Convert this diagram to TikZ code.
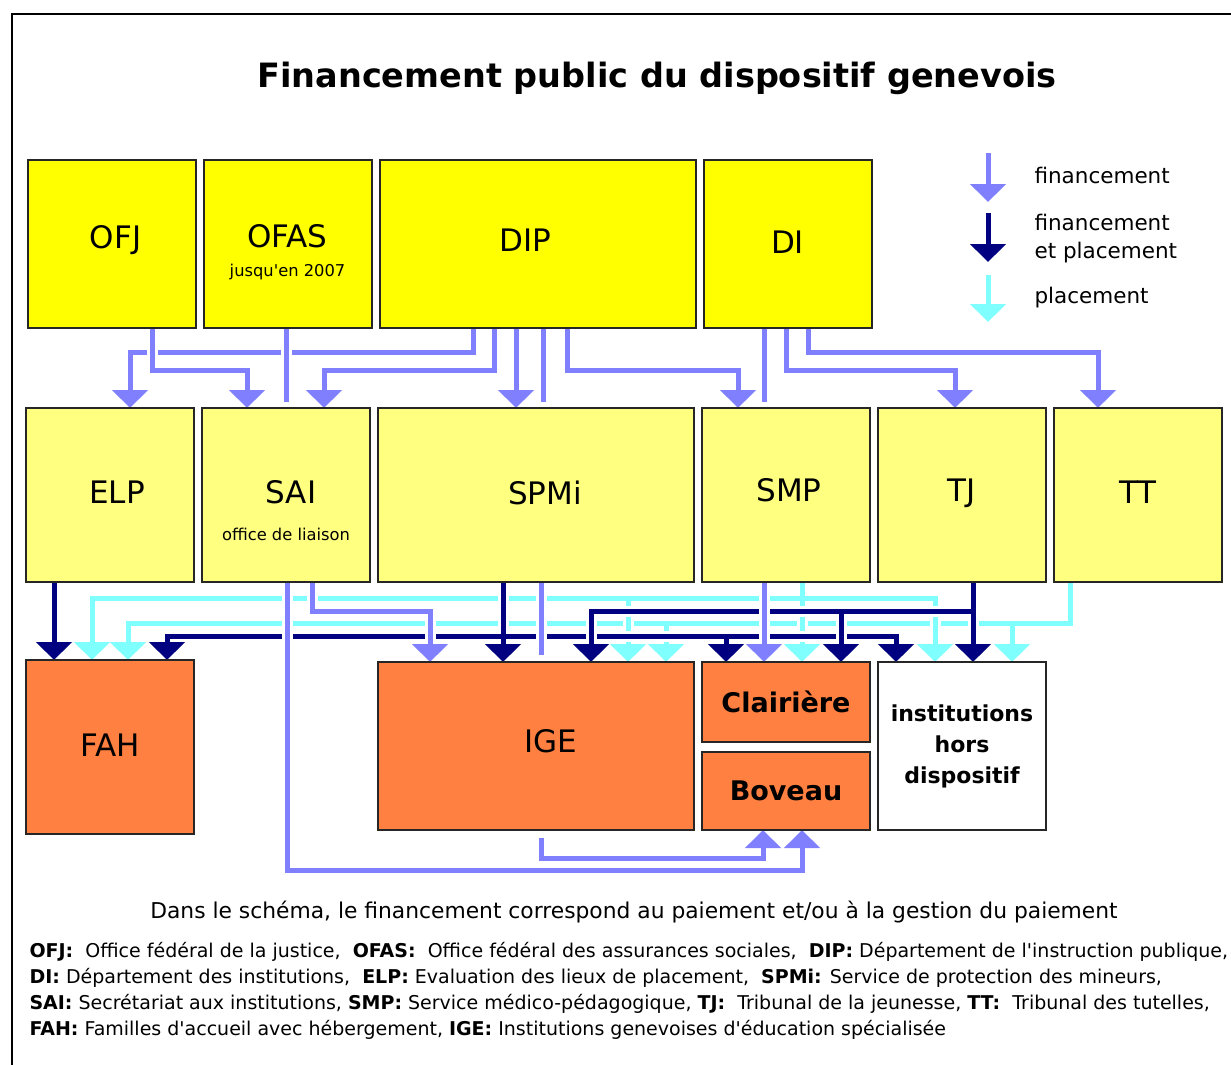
\documentclass[tikz,border=0pt]{standalone}
\usepackage{fontspec}
\setmainfont{DejaVu Sans}
\usetikzlibrary{
  arrows.meta,
  positioning,
  backgrounds
}
\definecolor{fincol}{HTML}{8080FF}
\definecolor{bothcol}{HTML}{000080}
\definecolor{placecol}{HTML}{80FFFF}
\definecolor{officecol}{HTML}{FFFF00}
\definecolor{servicecol}{HTML}{FFFF80}
\definecolor{hostcol}{HTML}{FF8040}
\tikzset{
  >={Triangle[width=35pt,length=18pt]},
  box/.style={draw=black!85, line width=2pt, inner sep=0pt, outer sep=0pt,
    minimum width=168pt, font=\fontsize{31}{36}\selectfont},
  wide/.style={minimum width=316pt},
  office/.style={box, fill=officecol, minimum height=168pt},
  service/.style={box, fill=servicecol, minimum height=174pt},
  host/.style={box, fill=hostcol},
  lift/.style={text depth=#1},
  subtext/.style={font=\fontsize{16.3}{19}\selectfont},
  legtext/.style={font=\fontsize{21.5}{28}\selectfont},
  finline/.style={draw=fincol, line width=5pt},
  bothline/.style={draw=bothcol, line width=5pt},
  placeline/.style={draw=placecol, line width=5pt},
  gap/.style={preaction={draw=white, line width=11pt, -, #1}},
  gap/.default={}
}

\begin{document}
\begin{tikzpicture}[x=1pt, y=-1pt]
  \useasboundingbox (0,0) rectangle (1231,1065);
  \draw[line width=2.5pt] (12,1065) -- (12,14) -- (1231,14);

  \node[anchor=base, font=\bfseries\fontsize{33.5}{40}\selectfont] (title) at (657,87)
    {Financement public du dispositif genevois};

  % offices
  \node[office, lift=14pt] (ofj) at (111.5,244) {\hspace*{8pt}OFJ};
  \node[office, lift=16pt, right=8pt of ofj] (ofas) {OFAS};
  \node[subtext] (ofas2) at ([yshift=-28pt]ofas.center) {jusqu\textquotesingle en 2007};
  \node[office, wide, lift=8pt, right=8pt of ofas] (dip) {DIP\hspace*{24pt}};
  \node[office, lift=4pt, right=8pt of dip] (di) {DI};

  % services
  \node[service, lift=6pt] (elp) at (110,495) {\hspace*{14pt}ELP};
  \node[service, lift=6pt, right=8pt of elp] (sai) {\hspace*{10pt}SAI};
  \node[subtext] (sai2) at ([yshift=-39pt]sai.center) {office de liaison};
  \node[service, wide, lift=4pt, right=8pt of sai] (spmi) {\hspace*{18pt}SPMi};
  \node[service, lift=10pt, right=8pt of spmi] (smp) {\hspace*{6pt}SMP};
  \node[service, lift=10pt, right=8pt of smp] (tj) {TJ};
  \node[service, lift=6pt, right=8pt of tj] (tt) {TT};

  % lieux de placement
  \node[host, minimum height=174pt, lift=4pt, below=78pt of elp] (fah) {FAH};
  \node[host, wide, minimum height=168pt, lift=10pt, below=80pt of spmi] (ige) {\hspace*{30pt}IGE};
  \node[host, minimum height=80pt, font=\bfseries\fontsize{27}{32}\selectfont,
    below=80pt of smp] (clair) {Clairière};
  \node[host, minimum height=78pt, font=\bfseries\fontsize{27}{32}\selectfont,
    below=10pt of clair] (boveau) {Boveau};
  \node[box, fill=white, minimum height=168pt, align=center,
    font=\bfseries\fontsize{22}{31}\selectfont, below=80pt of tj] (hors)
    {institutions\\hors\\dispositif};

  % legende
  \node[legtext, anchor=base west] (lgfin) at (1031,183) {financement};
  \node[legtext, anchor=west, align=left] (lgboth) at (1031,239) {financement\\et placement};
  \node[legtext, anchor=base west] (lgplace) at (1031,303) {placement};
  \coordinate (kfin) at (988,153);
  \coordinate (kboth) at (988,213);
  \coordinate (kplace) at (988,275);
  \draw[finline, ->] (kfin) -- ++(0,49);
  \draw[bothline, ->] (kboth) -- ++(0,49);
  \draw[placeline, ->] (kplace) -- ++(0,47);

  \node[anchor=base, font=\fontsize{21.8}{26}\selectfont] (note) at (634,918)
    {Dans le schéma, le financement correspond au paiement et/ou à la gestion du paiement};
  \node[anchor=north west, align=left, font=\fontsize{19}{26}\selectfont] (abbr) at (26,939)
    {\textbf{OFJ:}\ \ Office fédéral de la justice,\ \ \textbf{OFAS:}\ \ Office fédéral des assurances sociales,\ \ \textbf{DIP:} Département de l\textquotesingle instruction publique,\\
     \textbf{DI:} Département des institutions,\ \ \textbf{ELP:} Evaluation des lieux de placement,\ \ \textbf{SPMi:} Service de protection des mineurs,\\
     \textbf{SAI:} Secrétariat aux institutions, \textbf{SMP:} Service médico-pédagogique, \textbf{TJ:}\ \ Tribunal de la jeunesse, \textbf{TT:}\ \ Tribunal des tutelles,\\
     \textbf{FAH:} Familles d\textquotesingle accueil avec hébergement, \textbf{IGE:} Institutions genevoises d\textquotesingle éducation spécialisée};

  % niveaux des lignes
  \coordinate (busF) at (0,352);
  \coordinate (busG) at (0,370);
  \coordinate (busA) at (0,598);
  \coordinate (busB) at (0,611);
  \coordinate (busC) at (0,623);
  \coordinate (busD) at (0,636);
  \coordinate (busH) at (0,858);
  \coordinate (busI) at (0,870);

  \begin{scope}[on background layer]
    % financement, offices -> services
    \draw[finline, ->] (dip.south -| 473,0) |- (busF -| 130,0) -- (elp.north -| 130,0);
    \draw[finline, gap, ->] (ofj.south -| 152,0) |- (busG -| 247,0) -- (sai.north -| 247,0);
    \draw[finline, gap, shorten >=6pt] (ofas.south -| 286,0) -- (sai.north -| 286,0);
    \draw[finline, ->] (dip.south -| 494,0) |- (busG -| 324,0) -- (sai.north -| 324,0);
    \draw[finline, ->] (dip.south -| 516,0) -- (spmi.north -| 516,0);
    \draw[finline, shorten >=6pt] (dip.south -| 543,0) -- (spmi.north -| 543,0);
    \draw[finline, ->] (dip.south -| 567,0) |- (busG -| 738,0) -- (smp.north -| 738,0);
    \draw[finline, shorten >=6pt] (di.south -| 764,0) -- (smp.north -| 764,0);
    \draw[finline, ->] (di.south -| 786,0) |- (busG -| 955,0) -- (tj.north -| 955,0);
    \draw[finline, ->] (di.south -| 808,0) |- (busF -| 1098,0) -- (tt.north -| 1098,0);

    % placement, TT
    \draw[placeline, ->] (tt.south -| 1070,0) |- (busC -| 128,0) -- (fah.north -| 128,0);
    \draw[placeline, ->] (busC -| 666,0) -- (ige.north -| 666,0);
    \draw[placeline, ->] (busC -| 1012,0) -- (hors.north -| 1012,0);
    % placement, SMP
    \draw[placeline, gap, <->] (fah.north -| 92,0) |- (busA -| 935,0) -- (hors.north -| 935,0);
    \draw[placeline] (smp.south -| 802,0) -- (busA -| 802,0);
    \draw[placeline, gap={shorten <=3pt}, ->] (busA -| 628,0) -- (ige.north -| 628,0);
    \draw[placeline, gap={shorten <=3pt}, ->] (busA -| 802,0) -- (clair.north -| 802,0);

    % financement et placement, SPMi
    \draw[bothline, gap, <->] (fah.north -| 167,0) |- (busD -| 896,0) -- (hors.north -| 896,0);
    \draw[bothline, ->] (busD -| 726,0) -- (clair.north -| 726,0);
    \draw[bothline, gap={shorten >=30pt}, ->] (spmi.south -| 503,0) -- (ige.north -| 503,0);
    % financement et placement, TJ
    \draw[bothline, gap, ->] (tj.south -| 973,0) |- (busB -| 591,0) -- (ige.north -| 591,0);
    \draw[bothline, gap={shorten <=3pt}, ->] (busB -| 973,0) -- (hors.north -| 973,0);
    \draw[bothline, gap={shorten <=3pt}, ->] (busB -| 841,0) -- (clair.north -| 841,0);
    % financement et placement, ELP
    \draw[bothline, ->] (elp.south -| 54,0) -- (fah.north -| 54,0);

    % financement, services -> lieux
    \draw[finline, gap, ->] (sai.south -| 287,0) |- (busI -| 802,0) -- (boveau.south -| 802,0);
    \draw[finline, gap, ->] (sai.south -| 312,0) |- (busB -| 430,0) -- (ige.north -| 430,0);
    \draw[finline, gap, shorten >=7pt] (spmi.south -| 541,0) -- (ige.north -| 541,0);
    \draw[finline, gap, ->] (smp.south -| 764,0) -- (clair.north -| 764,0);
    \draw[finline, shorten <=8pt, ->] (ige.south -| 541,0) |- (busH -| 763,0) -- (boveau.south -| 763,0);
  \end{scope}
\end{tikzpicture}
\end{document}
